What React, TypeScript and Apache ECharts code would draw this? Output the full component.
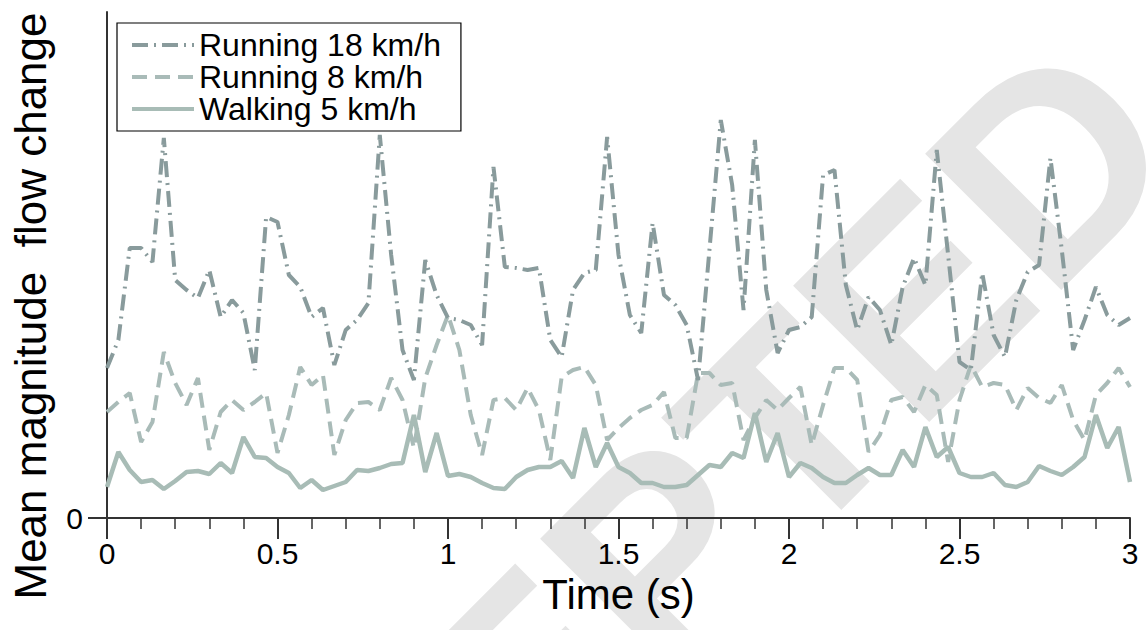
import React, { useEffect, useRef } from "react";
import * as echarts from "echarts";

const FONT = "Liberation Sans, Arial, sans-serif";
const FPS = 30;

const seriesNames = ["Running 18 km/h", "Running 8 km/h", "Walking 5 km/h"];

const running18 = [
  150, 178, 270, 270, 256, 380, 238, 228, 220, 248,
  201, 218, 205, 148, 301, 296, 243, 231, 201, 210,
  153, 188, 198, 215, 383, 263, 168, 138, 258, 223,
  200, 198, 193, 173, 351, 251, 250, 248, 250, 178,
  161, 228, 245, 248, 381, 263, 203, 185, 295, 223,
  213, 193, 138, 268, 398, 333, 208, 378, 228, 165,
  188, 191, 201, 343, 348, 233, 188, 221, 208, 173,
  231, 260, 233, 368, 263, 156, 148, 245, 183, 161,
  218, 246, 253, 360, 268, 168, 198, 231, 203, 193,
  200,
];

const running8 = [
  106, 116, 125, 76, 96, 166, 135, 113, 140, 68,
  106, 118, 108, 116, 125, 65, 103, 151, 133, 143,
  63, 98, 115, 116, 108, 140, 118, 70, 140, 173,
  203, 168, 103, 63, 118, 120, 108, 130, 108, 58,
  141, 148, 151, 133, 78, 90, 100, 108, 113, 126,
  80, 80, 145, 145, 133, 135, 78, 100, 118, 108,
  120, 131, 73, 113, 150, 150, 138, 66, 83, 118,
  121, 106, 133, 123, 56, 118, 153, 131, 135, 133,
  108, 130, 120, 115, 133, 98, 78, 123, 135, 150,
  131,
];

const walking5 = [
  31, 66, 48, 36, 38, 29, 37, 46, 47, 44,
  55, 45, 81, 61, 60, 51, 45, 30, 38, 28,
  32, 36, 48, 47, 50, 54, 55, 103, 46, 85,
  42, 44, 41, 35, 30, 29, 41, 48, 51, 51,
  57, 40, 90, 51, 75, 51, 45, 35, 35, 31,
  31, 33, 43, 53, 51, 65, 60, 105, 56, 85,
  41, 55, 50, 41, 35, 35, 43, 50, 43, 43,
  68, 51, 91, 61, 71, 45, 41, 41, 45, 33,
  31, 36, 52, 47, 43, 51, 61, 103, 70, 91,
  36,
];

const yTickValues = [0];

const toPairs = (vals: number[]) => vals.map((v, i) => [i / FPS, v]);

export default function App() {
  const ref = useRef<HTMLDivElement>(null);

  useEffect(() => {
    if (!ref.current) return;
    const chart = echarts.init(ref.current, undefined, { renderer: "svg" });
    const axisColor = "#333";
    chart.setOption({
      animation: false,
      backgroundColor: "#fff",
      grid: { left: 107, right: 18, top: 12, bottom: 112 },
      legend: {
        orient: "vertical",
        left: 117,
        top: 23,
        padding: [6, 20, 6, 13],
        itemGap: 0,
        itemWidth: 62,
        itemHeight: 2,
        borderColor: "#000",
        borderWidth: 1.2,
        backgroundColor: "#fff",
        itemStyle: { opacity: 0, borderWidth: 0 },
        lineStyle: { width: 4 },
        textStyle: { fontSize: 32, lineHeight: 32, color: "#000", fontFamily: FONT },
        data: seriesNames,
      },
      xAxis: {
        type: "value",
        min: 0,
        max: 3,
        interval: 0.5,
        axisLine: { show: true, onZero: false, lineStyle: { color: axisColor, width: 2 } },
        axisTick: { show: true, length: 21, lineStyle: { color: axisColor, width: 2 } },
        minorTick: { show: true, splitNumber: 5, length: 11, lineStyle: { color: axisColor, width: 1.5 } },
        splitLine: { show: false },
        axisLabel: { fontSize: 30, color: "#000", margin: 20, fontFamily: FONT },
        name: "Time (s)",
        nameLocation: "middle",
        nameGap: 55,
        nameTextStyle: { fontSize: 42, color: "#000", fontFamily: FONT },
      },
      yAxis: {
        type: "value",
        min: 0,
        max: 506,
        axisLine: { show: true, lineStyle: { color: axisColor, width: 2 } },
        axisTick: { show: true, length: 19, customValues: yTickValues, lineStyle: { color: axisColor, width: 2 } },
        axisLabel: { customValues: yTickValues, fontSize: 30, color: "#000", margin: 24, fontFamily: FONT },
        splitLine: { show: false },
      },
      graphic: [
        {
          type: "text",
          x: 578,
          y: 636,
          rotation: Math.PI / 4,
          z: -1,
          silent: true,
          style: {
            text: "ACCEPTED",
            fontSize: 280,
            fontWeight: "bold",
            fontFamily: FONT,
            fill: "#e5e5e5",
            align: "center",
            verticalAlign: "middle",
          },
        },
        {
          type: "text",
          x: 30,
          y: 306,
          rotation: Math.PI / 2,
          z: 10,
          style: {
            text: "Mean magnitude  flow change",
            fontSize: 44,
            fontFamily: FONT,
            fill: "#000",
            align: "center",
            verticalAlign: "middle",
          },
        },
      ],
      series: [
        {
          name: seriesNames[0],
          type: "line",
          symbol: "none",
          data: toPairs(running18),
          lineStyle: { color: "#899b9c", width: 4, type: [16, 6, 2, 6] },
          itemStyle: { color: "#899b9c" },
          z: 3,
        },
        {
          name: seriesNames[1],
          type: "line",
          symbol: "none",
          data: toPairs(running8),
          lineStyle: { color: "#a9bbb8", width: 4, type: [15, 8] },
          itemStyle: { color: "#a9bbb8" },
          z: 2,
        },
        {
          name: seriesNames[2],
          type: "line",
          symbol: "none",
          data: toPairs(walking5),
          lineStyle: { color: "#a8bcb6", width: 4.5 },
          itemStyle: { color: "#a8bcb6" },
          z: 2,
        },
      ],
    });
    return () => chart.dispose();
  }, []);

  return (
    <div
      ref={ref}
      style={{ position: "fixed", left: 0, top: 0, width: 1148, height: 630, background: "#fff" }}
    />
  );
}
